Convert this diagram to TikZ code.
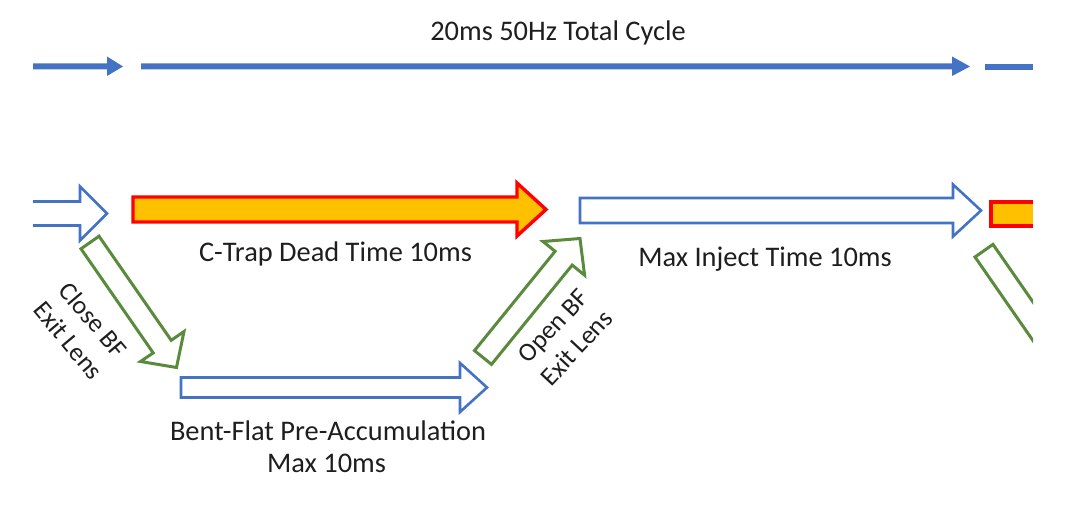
\documentclass[tikz,border=0pt]{standalone}
\usepackage{fontspec}
\setmainfont{Carlito}
\definecolor{cblue}{HTML}{4472C4}
\definecolor{cgreen}{HTML}{5A8A3C}
\definecolor{corange}{HTML}{FFC000}
\definecolor{cred}{HTML}{FF0000}
\definecolor{ctext}{HTML}{1E1E1E}
\tikzset{
  thinarrow/.style={fill=cblue, draw=none},
  hollowblue/.style={draw=cblue, line width=1.3pt, line join=miter, fill=white},
  deadarrow/.style={draw=cred, fill=corange, line width=1.7pt, line join=miter},
  greenarrow/.style={draw=cgreen, line width=1.5pt, line join=miter, fill=white},
  label/.style={text=ctext, font=\fontsize{14.2}{17}\selectfont, anchor=base, inner sep=0pt},
  difflabel/.style={text=ctext, font=\fontsize{13}{16}\selectfont, align=center, inner sep=0pt},
}
\begin{document}
\begin{tikzpicture}[x=0.5pt,y=-0.5pt]
\useasboundingbox (0,0) rectangle (1077,507);

% top cycle arrows
\fill[thinarrow] (33,63.5) -- (107,63.5) -- (107,56.5) -- (123,66.5) -- (107,76) -- (107,69.5) -- (33,69.5) -- cycle;
\fill[thinarrow] (141,63.5) -- (952,63.5) -- (952,56.5) -- (970,66.5) -- (952,76) -- (952,69.5) -- (141,69.5) -- cycle;
\fill[thinarrow] (985,64) rectangle (1033,70);
\node[label] (cycle) at (558,41) {20ms 50Hz Total Cycle};

% left partial hollow arrow (open at left)
\draw[hollowblue] (33,201.5) -- (80,201.5) -- (80,186.5) -- (107,213.5) -- (80,240.5) -- (80,225.5) -- (33,225.5);

% C-trap dead time arrow
\draw[deadarrow] (133,197) -- (517,197) -- (517,183) -- (546,209.5) -- (517,236) -- (517,222) -- (133,222) -- cycle;
\node[label] (dead) at (335.5,261.5) {C-Trap Dead Time 10ms};

% max inject arrow
\draw[hollowblue] (580,198) -- (953,198) -- (953,184.5) -- (981,210.5) -- (953,236.5) -- (953,223) -- (580,223) -- cycle;
\node[label] (inject) at (765,267) {Max Inject Time 10ms};

% right partial dead-time box
\fill[corange] (991,202) rectangle (1033,226);
\draw[draw=cred, line width=1.7pt, line join=miter] (1033,202) -- (991,202) -- (991,226) -- (1033,226);

% close BF arrow
\draw[greenarrow] (81,248.8) -- (153.2,352.9) -- (140.5,361.5) -- (176.5,367.5) -- (184,331.5) -- (171.2,340.3) -- (99,236.2) -- cycle;
\node[difflabel, rotate=-50] (closebf) at (81,330) {Close BF\\Exit Lens};

% bent-flat pre-accumulation arrow
\draw[hollowblue] (181,377.5) -- (460,377.5) -- (460,363) -- (487,387.5) -- (460,412) -- (460,397.5) -- (181,397.5) -- cycle;
\node[label] (bentflat) at (328,441) {Bent-Flat Pre-Accumulation};
\node[label] (maxten) at (326.5,473) {Max 10ms};

% open BF arrow
\draw[greenarrow] (491.5,364.4) -- (572.2,265.1) -- (584.6,275.2) -- (580,238.5) -- (543,241.5) -- (555.1,251.3) -- (474.5,350.6) -- cycle;
\node[difflabel, rotate=47] (openbf) at (565,337) {Open BF\\Exit Lens};

% right partial green arrow (clipped)
\begin{scope}
\clip (0,0) rectangle (1033,507);
\draw[greenarrow, fill=none] (1047.2,361.1) -- (975,257) -- (993,244.4) -- (1065.2,348.5);
\end{scope}
\end{tikzpicture}
\end{document}
